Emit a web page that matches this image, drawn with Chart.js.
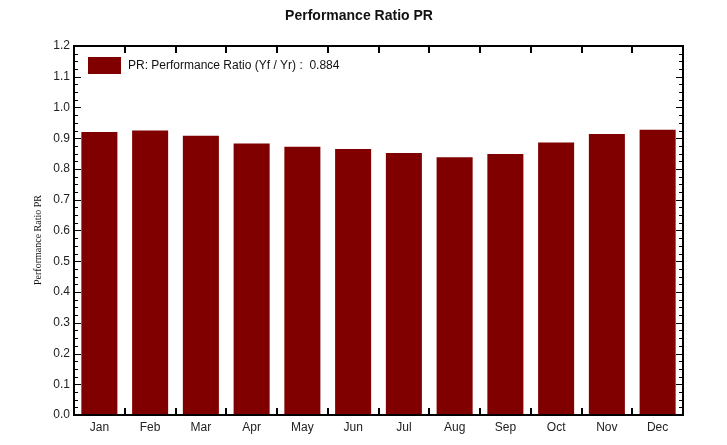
<!DOCTYPE html>
<html>
<head>
<meta charset="utf-8">
<script src="https://cdn.jsdelivr.net/npm/chart.js@4/dist/chart.umd.min.js"></script>
<style>
  html, body { margin: 0; padding: 0; background: #fff; }
  #wrap { width: 727px; height: 445px; }
</style>
</head>
<body>
<div id="wrap"><canvas id="prChart" width="727" height="445"></canvas></div>
<script>
// ======================================
// Chart data
// ======================================

const MONTHS = ["Jan", "Feb", "Mar", "Apr", "May", "Jun", "Jul", "Aug", "Sep", "Oct", "Nov", "Dec"];

const PR_VALUES = [0.920, 0.925, 0.908, 0.883, 0.872, 0.865, 0.852, 0.838, 0.849, 0.886, 0.914, 0.928];

const Y_TICKS = [0.0, 0.1, 0.2, 0.3, 0.4, 0.5, 0.6, 0.7, 0.8, 0.9, 1.0, 1.1, 1.2];

const PR_YEAR = "0.884";

const CHART_TITLE = "Performance Ratio PR";
const Y_TITLE = "Performance Ratio PR";
const LEGEND_TEXT = "PR: Performance Ratio (Yf / Yr) :  " + PR_YEAR;

const BAR_COLOR = "#800000";

// ======================================
// Frame, ticks, title and legend
// ======================================

const framePlugin = {
  id: "frame",
  afterDraw(chart) {
    const ctx = chart.ctx;
    const area = chart.chartArea;
    const x = chart.scales.x;
    const y = chart.scales.y;

    ctx.save();
    ctx.strokeStyle = "#000";

    // inward ticks on left and right, 3 minor per major
    ctx.lineWidth = 1;
    ctx.beginPath();
    for (let i = 0; i <= 48; i++) {
      const py = Math.round(y.getPixelForValue(i * 0.025)) + 0.5;
      const len = i % 4 === 0 ? 7 : 4;
      ctx.moveTo(area.left, py);
      ctx.lineTo(area.left + len, py);
      ctx.moveTo(area.right, py);
      ctx.lineTo(area.right - len, py);
    }
    ctx.stroke();

    // category boundary ticks at top and bottom
    const step = x.getPixelForValue(1) - x.getPixelForValue(0);
    ctx.lineWidth = 2;
    ctx.beginPath();
    for (let i = 1; i < MONTHS.length; i++) {
      const px = Math.round(x.getPixelForValue(i) - step / 2);
      ctx.moveTo(px, area.bottom);
      ctx.lineTo(px, area.bottom - 7);
      ctx.moveTo(px, area.top);
      ctx.lineTo(px, area.top + 7);
    }
    ctx.stroke();

    // plot border
    ctx.lineWidth = 2;
    ctx.strokeRect(area.left, area.top, area.right - area.left, area.bottom - area.top);

    // title
    ctx.fillStyle = "#111";
    ctx.font = "bold 14px 'Liberation Sans', Arial, sans-serif";
    ctx.textAlign = "center";
    ctx.textBaseline = "middle";
    ctx.fillText(CHART_TITLE, 359, 16);

    // legend inside the plot
    ctx.fillStyle = BAR_COLOR;
    ctx.fillRect(area.left + 14, area.top + 11, 33, 17);
    ctx.fillStyle = "#111";
    ctx.font = "12px 'Liberation Sans', Arial, sans-serif";
    ctx.textAlign = "left";
    ctx.fillText(LEGEND_TEXT, area.left + 54, area.top + 20);

    // y axis title
    ctx.font = "10px 'Liberation Serif', 'Times New Roman', serif";
    ctx.textAlign = "center";
    ctx.translate(38, 240);
    ctx.rotate(-Math.PI / 2);
    ctx.fillText(Y_TITLE, 0, 0);

    ctx.restore();
  },
};

new Chart(document.getElementById("prChart"), {
  type: "bar",

  data: {
    labels: MONTHS,

    datasets: [
      {
        label: LEGEND_TEXT,
        data: PR_VALUES,
        backgroundColor: BAR_COLOR,
        borderWidth: 0,
        categoryPercentage: 1,
        barPercentage: 0.71,
      },
    ],
  },

  options: {
    responsive: false,
    animation: false,
    devicePixelRatio: 1,

    layout: {
      padding: { top: 46, right: 44, bottom: 0, left: 0 },
    },

    plugins: {
      legend: { display: false },
      title: { display: false },
      tooltip: { enabled: false },
    },

    scales: {
      x: {
        grid: { display: false, drawTicks: false },
        border: { display: false },
        ticks: {
          color: "#222",
          padding: 5,
          font: { family: "'Liberation Sans', Arial, sans-serif", size: 12 },
        },
        afterFit(scale) {
          scale.height = 30;
        },
      },

      y: {
        min: 0,
        max: 1.2,
        afterBuildTicks(scale) {
          scale.ticks = Y_TICKS.map((v) => ({ value: v }));
        },
        grid: { display: false, drawTicks: false },
        border: { display: false },
        ticks: {
          color: "#222",
          padding: 4,
          font: { family: "'Liberation Sans', Arial, sans-serif", size: 12 },
          callback: (v) => Number(v).toFixed(1),
        },
        afterFit(scale) {
          scale.width = 74;
        },
      },
    },
  },

  plugins: [framePlugin],
});
</script>
</body>
</html>
